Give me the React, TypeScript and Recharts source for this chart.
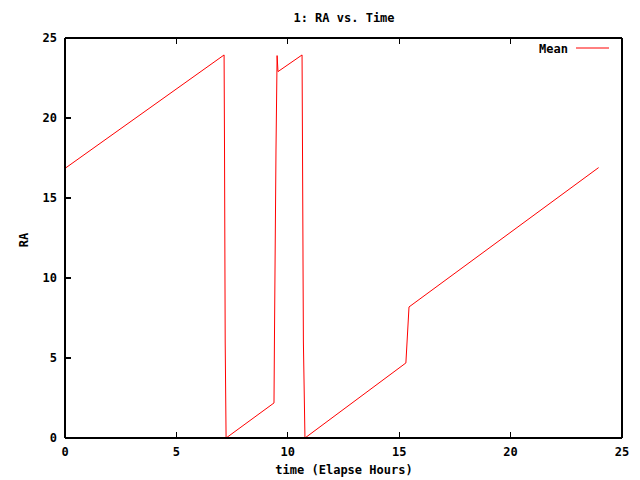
import React from "react";
import { LineChart, Line, XAxis, YAxis } from "recharts";

// elapsed time (hours) and mean RA
const timeHours = [
  0, 7.14, 7.16, 7.19, 7.23, 9.38, 9.4, 9.47, 9.52, 9.56, 10.64, 10.66, 10.7,
  10.77, 15.3, 15.44, 23.95,
];
const raMean = [
  16.85, 23.94, 18, 6, 0, 2.19, 6, 18, 23.9, 22.9, 23.94, 18, 6, 0, 4.69, 8.19,
  16.9,
];

const xTicks = [0, 5, 10, 15, 20, 25];
const yTicks = [0, 5, 10, 15, 20, 25];

const chartData = timeHours.map((t, i) => ({ time: t, ra: raMean[i] }));

const FONT = "'DejaVu Sans Mono', monospace";
const textStyle = { fill: "#000", fontSize: 12, fontFamily: FONT, fontWeight: "bold" };
const TICK_LEN = 6;

// gnuplot style: ticks point inward. tickSize/tickMargin are 0 so (x, y) is on the border
const BottomTick = (props: any) => {
  const { x, y, payload } = props;
  return (
    <g>
      <line x1={x} y1={y} x2={x} y2={y - TICK_LEN} stroke="#000" strokeWidth={1.2} shapeRendering="crispEdges" />
      <text x={x} y={y + 9} dy="0.71em" textAnchor="middle" style={textStyle}>
        {payload.value}
      </text>
    </g>
  );
};

const LeftTick = (props: any) => {
  const { x, y, payload } = props;
  return (
    <g>
      <line x1={x} y1={y} x2={x + TICK_LEN} y2={y} stroke="#000" strokeWidth={1.2} shapeRendering="crispEdges" />
      <text x={x - 8} y={y} dy="0.355em" textAnchor="end" style={textStyle}>
        {payload.value}
      </text>
    </g>
  );
};

const TopTick = (props: any) => {
  const { x, y } = props;
  return <line x1={x} y1={y} x2={x} y2={y + TICK_LEN} stroke="#000" strokeWidth={1.2} shapeRendering="crispEdges" />;
};

const RightTick = (props: any) => {
  const { x, y } = props;
  return <line x1={x} y1={y} x2={x - TICK_LEN} y2={y} stroke="#000" strokeWidth={1.2} shapeRendering="crispEdges" />;
};

const axisLine = { stroke: "#000", strokeWidth: 1.2, shapeRendering: "crispEdges" };

const App: React.FC = () => {
  return (
    <div style={{ position: "absolute", left: 0, top: 0, background: "#fff" }}>
      <LineChart
        width={640}
        height={480}
        data={chartData}
        margin={{ top: 37, right: 17, bottom: 12, left: 6 }}
      >
        <XAxis
          xAxisId="x"
          dataKey="time"
          type="number"
          domain={[0, 25]}
          ticks={xTicks}
          interval={0}
          height={30}
          tickLine={false}
          tickSize={0}
          tickMargin={0}
          axisLine={axisLine}
          tick={BottomTick}
        />
        <XAxis
          xAxisId="top"
          orientation="top"
          dataKey="time"
          type="number"
          domain={[0, 25]}
          ticks={xTicks}
          interval={0}
          height={1}
          tickLine={false}
          tickSize={0}
          tickMargin={0}
          axisLine={axisLine}
          tick={TopTick}
        />
        <YAxis
          yAxisId="y"
          type="number"
          domain={[0, 25]}
          ticks={yTicks}
          interval={0}
          width={59}
          tickLine={false}
          tickSize={0}
          tickMargin={0}
          axisLine={axisLine}
          tick={LeftTick}
        />
        <YAxis
          yAxisId="right"
          orientation="right"
          type="number"
          domain={[0, 25]}
          ticks={yTicks}
          interval={0}
          width={1}
          tickLine={false}
          tickSize={0}
          tickMargin={0}
          axisLine={axisLine}
          tick={RightTick}
        />
        <Line
          xAxisId="x"
          yAxisId="y"
          type="linear"
          dataKey="ra"
          stroke="#ff0000"
          strokeWidth={1}
          dot={false}
          activeDot={false}
          isAnimationActive={false}
        />
        <text x={344} y={22} textAnchor="middle" style={textStyle}>
          1: RA vs. Time
        </text>
        <text x={344} y={474} textAnchor="middle" style={textStyle}>
          time (Elapse Hours)
        </text>
        <text
          x={24}
          y={244}
          textAnchor="middle"
          transform="rotate(-90, 24, 240)"
          style={textStyle}
        >
          RA
        </text>
        <text x={568} y={53} textAnchor="end" style={textStyle}>
          Mean
        </text>
        <line x1={576} y1={48} x2={609} y2={48} stroke="#ff0000" strokeWidth={1} />
      </LineChart>
    </div>
  );
};

export default App;
